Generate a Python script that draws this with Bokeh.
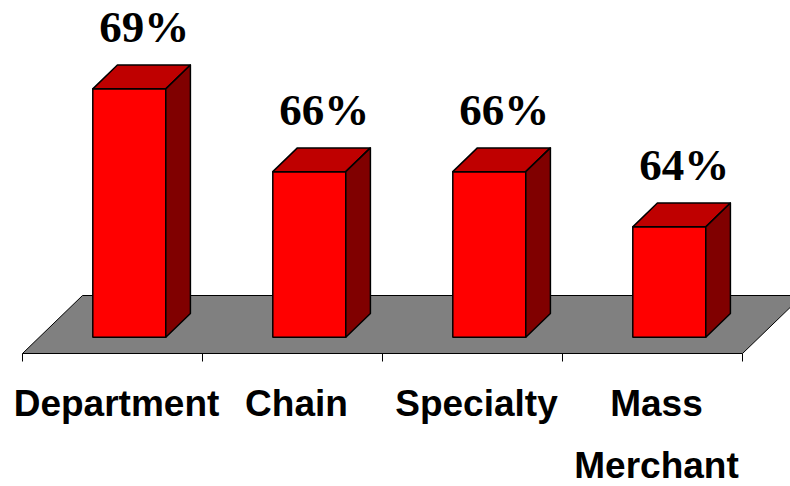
from bokeh.plotting import figure
from bokeh.models import Range1d
from bokeh.core.properties import value
from bokeh.embed import file_html
from bokeh.resources import INLINE

# ---------------- data ----------------
categories = ["Department", "Chain", "Specialty", "Mass Merchant"]
category_lines = [["Department"], ["Chain"], ["Specialty"], ["Mass", "Merchant"]]
values = [69, 66, 66, 64]
value_labels = ["69%", "66%", "66%", "64%"]
floor_value = 60

# ---------------- layout / style ----------------
W, H = 790, 486
PX_X = 180.0          # pixels per category slot
PX_Y = 27.6           # pixels per percentage point
DEPTH_DX, DEPTH_DY = 60.0, 58.0   # oblique depth of floor (pixels)
X0_PX, Y0_PX = 22.0, 353.0        # front-left corner of floor in pixels

ddx = DEPTH_DX / PX_X
ddy = DEPTH_DY / PX_Y
BAR_W = 73.0 / PX_X
D0, D1 = 0.28, 0.69   # bar front / back depth (fraction of floor depth)

def proj(u, v, d):
    return u + d * ddx, v + d * ddy

p = figure(width=W, height=H,
           x_range=Range1d(-X0_PX / PX_X, (W - X0_PX) / PX_X),
           y_range=Range1d(floor_value - (H - Y0_PX) / PX_Y, floor_value + Y0_PX / PX_Y),
           output_backend="svg", toolbar_location=None,
           x_axis_location=None, y_axis_location=None,
           min_border=0)
p.grid.visible = False
p.outline_line_color = None
p.background_fill_color = "white"
p.border_fill_color = "white"

n = len(categories)

# floor
fl = [proj(0, floor_value, 0), proj(n, floor_value, 0), proj(n, floor_value, 1), proj(0, floor_value, 1)]
p.patch([a for a, b in fl], [b for a, b in fl], fill_color="#808080",
        line_color="black", line_width=1)

# tick marks on front floor edge
tick_len = 8.0 / PX_Y
p.segment(x0=list(range(n + 1)), y0=[floor_value] * (n + 1),
          x1=list(range(n + 1)), y1=[floor_value - tick_len] * (n + 1),
          line_color="black", line_width=1)

# bars
front_xs, front_ys, top_xs, top_ys, side_xs, side_ys = [], [], [], [], [], []
for i, v in enumerate(values):
    uL = i + 0.5 - BAR_W / 2
    uR = i + 0.5 + BAR_W / 2
    f = [proj(uL, floor_value, D0), proj(uR, floor_value, D0), proj(uR, v, D0), proj(uL, v, D0)]
    t = [proj(uL, v, D0), proj(uR, v, D0), proj(uR, v, D1), proj(uL, v, D1)]
    s = [proj(uR, floor_value, D0), proj(uR, floor_value, D1), proj(uR, v, D1), proj(uR, v, D0)]
    front_xs.append([a for a, b in f]); front_ys.append([b for a, b in f])
    top_xs.append([a for a, b in t]); top_ys.append([b for a, b in t])
    side_xs.append([a for a, b in s]); side_ys.append([b for a, b in s])

p.patches(front_xs, front_ys, fill_color="#FF0000", line_color="black", line_width=1.5)
p.patches(top_xs, top_ys, fill_color="#BF0000", line_color="black", line_width=1.5, line_join="round")
p.patches(side_xs, side_ys, fill_color="#800000", line_color="black", line_width=1.5, line_join="round")

# value labels
lab_off = 62.0 / PX_Y
lx, ly = [], []
for i, v in enumerate(values):
    cx, cy = proj(i + 0.5, v, D0)
    lx.append(cx + 15.0 / PX_X)
    ly.append(cy + lab_off)
p.text(x=lx, y=ly, text=value_labels, text_font=value("Liberation Serif"),
       text_font_style="bold", text_font_size="45px", text_color="black",
       text_align="center", text_baseline="alphabetic")

# category labels
cx_, cy_, ct_ = [], [], []
line_gap = 62.0 / PX_Y
first_base = floor_value - 50.0 / PX_Y
for i, lines in enumerate(category_lines):
    for j, t in enumerate(lines):
        cx_.append(i + 0.5 + 4.0 / PX_X)
        cy_.append(first_base - j * line_gap)
        ct_.append(t)
p.text(x=cx_, y=cy_, text=ct_, text_font=value("Liberation Sans"),
       text_font_style="bold", text_font_size="37px", text_color="black",
       text_align="center", text_baseline="alphabetic")

open("out.html", "w").write(file_html(p, INLINE))
